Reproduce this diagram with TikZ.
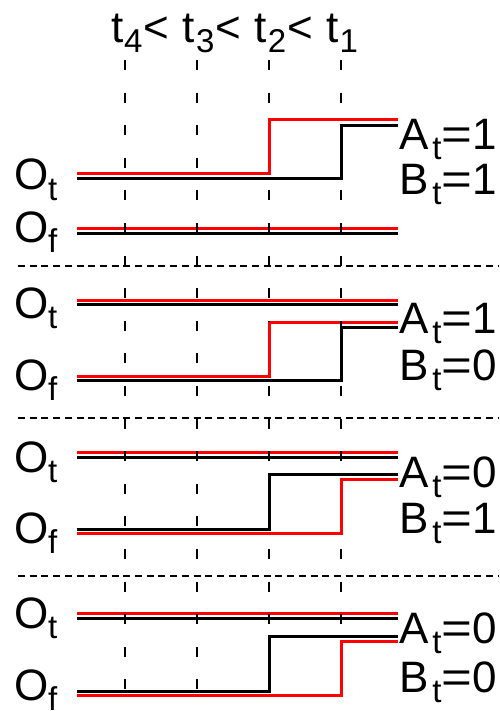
\documentclass[tikz,border=0pt]{standalone}
\usepackage{fontspec}
\setmainfont{Liberation Sans}
\usepackage{graphicx}
\newcommand\sbs[1]{\raisebox{-10pt}{\fontsize{33pt}{33pt}\selectfont #1}}
\newcommand\eqs{\scalebox{1.2}[1]{=}}
\newcommand\tlab[2]{#1\kern4pt\sbs{t}\eqs#2}
\newcommand\olab[1]{O\sbs{#1}}
\newcommand\tsep{\kern1pt<\kern13.5pt}
\begin{document}
\begin{tikzpicture}[x=1pt,y=-1pt,
  lab/.style={anchor=base west,inner sep=0pt,outer sep=0pt,font=\fontsize{44pt}{44pt}\selectfont},
  rsig/.style={draw=red,line width=3pt},
  bsig/.style={draw=black,line width=3pt},
  vdash/.style={draw=black,line width=2.8pt,dash pattern=on 10pt off 22.6pt},
  hdash/.style={draw=black,line width=2.8pt,dash pattern=on 7pt off 4.7pt}]
\useasboundingbox (0,0) rectangle (499,711);
% panel 1
\draw[rsig] (77,174) -- (269,174) -- (269,120) -- (398,120);
\draw[bsig] (77,179) -- (341,179) -- (341,126) -- (398,126);
\draw[rsig] (77,228) -- (398,228);
\draw[bsig] (77,233) -- (398,233);
% panel 2
\draw[rsig] (77,300) -- (398,300);
\draw[bsig] (77,304) -- (398,304);
\draw[rsig] (77,376) -- (269,376) -- (269,322) -- (398,322);
\draw[bsig] (77,380) -- (341,380) -- (341,327) -- (398,327);
% panel 3
\draw[rsig] (77,452) -- (398,452);
\draw[bsig] (77,457) -- (398,457);
\draw[bsig] (77,529) -- (269,529) -- (269,474) -- (398,474);
\draw[rsig] (77,533) -- (341,533) -- (341,479) -- (398,479);
% panel 4
\draw[rsig] (77,613) -- (398,613);
\draw[bsig] (77,618) -- (398,618);
\draw[bsig] (77,691) -- (269,691) -- (269,636) -- (398,636);
\draw[rsig] (77,695) -- (341,695) -- (341,641) -- (398,641);
% dashed guides
\foreach \x in {125,197,269,341} \draw[vdash] (\x,60) -- (\x,690);
\foreach \y in {266,418,576} \draw[hdash] (18,\y) -- (499,\y);
% step edges over the guides
\draw[rsig] (269,174) -- (269,120);
\draw[bsig] (341,179) -- (341,126);
\draw[rsig] (269,376) -- (269,322);
\draw[bsig] (341,380) -- (341,327);
\draw[bsig] (269,529) -- (269,474);
\draw[rsig] (341,533) -- (341,479);
\draw[bsig] (269,691) -- (269,636);
\draw[rsig] (341,695) -- (341,641);
% labels
\node[lab] (top) at (111,43) {t\kern1pt\sbs{4}\tsep t\kern1pt\sbs{3}\tsep t\kern1pt\sbs{2}\tsep t\kern1pt\sbs{1}};
\node[lab] (ot1) at (14,190) {\olab{t}};
\node[lab] (of1) at (14,242) {\olab{f}};
\node[lab] (a1) at (399,150) {\tlab{A}{1}};
\node[lab] (b1) at (399,195) {\tlab{B}{1}};
\node[lab] (ot2) at (14,318) {\olab{t}};
\node[lab] (of2) at (14,390) {\olab{f}};
\node[lab] (a2) at (399,333) {\tlab{A}{1}};
\node[lab] (b2) at (399,380) {\tlab{B}{0}};
\node[lab] (ot3) at (14,472) {\olab{t}};
\node[lab] (of3) at (14,543) {\olab{f}};
\node[lab] (a3) at (399,487) {\tlab{A}{0}};
\node[lab] (b3) at (399,533) {\tlab{B}{1}};
\node[lab] (ot4) at (14,628) {\olab{t}};
\node[lab] (of4) at (14,700) {\olab{f}};
\node[lab] (a4) at (399,643) {\tlab{A}{0}};
\node[lab] (b4) at (399,692) {\tlab{B}{0}};
\end{tikzpicture}
\end{document}
